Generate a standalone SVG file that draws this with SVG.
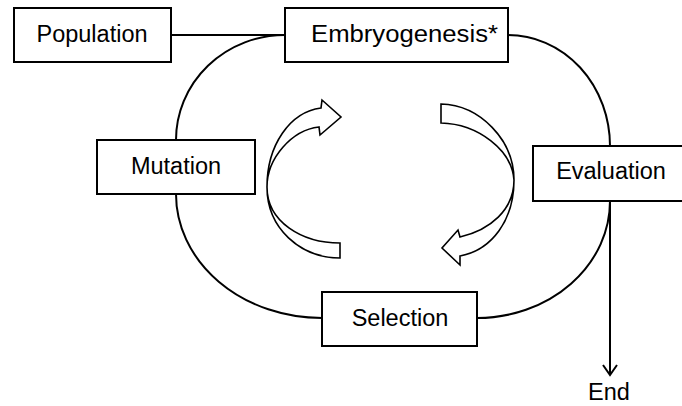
<svg xmlns="http://www.w3.org/2000/svg" width="682" height="406" viewBox="0 0 682 406">
<defs>
<style>
.box{fill:#fff;stroke:#000;stroke-width:2}
.lbl{font-family:"Liberation Sans",Arial,sans-serif;font-size:23.5px;fill:#000;text-anchor:middle}
.con{fill:none;stroke:#000;stroke-width:2}
.blk{fill:#fff;stroke:#000;stroke-width:1.6;stroke-linejoin:miter}
</style>
</defs>
<rect width="682" height="406" fill="#fff"/>
<g id="connectors">
<path class="con" d="M171,35 L285,35"/>
<path class="con" d="M285,35 A109,105 0 0 0 176,140"/>
<path class="con" d="M176,194 A146,124 0 0 0 322,318"/>
<path class="con" d="M508,35 A102,111 0 0 1 610,146"/>
<path class="con" d="M610,201 A133,117 0 0 1 477,318"/>
<path class="con" d="M610,201 L610,374"/>
<path class="con" d="M603,365 L610,375 L617,365"/>
</g>
<g id="cycle-arrows">
<path class="blk" d="M340,258 C300,258 267,228 267,187 C267,145 290,112 321,108 L322,100 L341,117 L320,135 L319,127 C292,130 267,158 267,187 C267,222 302,243 340,243 Z"/>
<path class="blk" d="M441,104 C480,105 514,140 514,180 C514,220 492,250 460,256 L460,265 L442,248 L458,230 L460,237 C490,230 514,210 514,180 C512,150 478,124 441,123 Z"/>
</g>
<g id="population">
<rect class="box" x="14" y="8" width="157" height="54"/>
<text class="lbl" x="92" y="42">Population</text>
</g>
<g id="embryogenesis">
<rect class="box" x="285" y="8" width="223" height="54"/>
<text class="lbl" x="311" y="42" style="text-anchor:start" textLength="187" lengthAdjust="spacingAndGlyphs">Embryogenesis*</text>
</g>
<g id="mutation">
<rect class="box" x="97" y="140" width="158" height="54"/>
<text class="lbl" x="176" y="174">Mutation</text>
</g>
<g id="evaluation">
<rect class="box" x="533" y="146" width="157" height="55"/>
<text class="lbl" x="611" y="179">Evaluation</text>
</g>
<g id="selection">
<rect class="box" x="322" y="292" width="155" height="54"/>
<text class="lbl" x="400" y="326">Selection</text>
</g>
<g id="end">
<text class="lbl" x="609" y="400">End</text>
</g>
</svg>
